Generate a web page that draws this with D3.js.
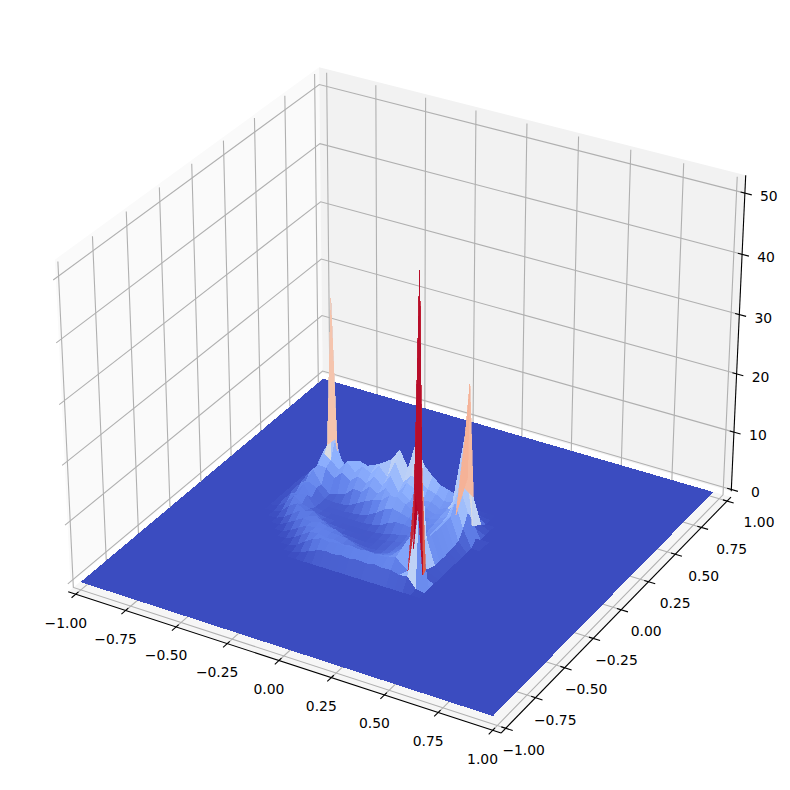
<!DOCTYPE html>
<html><head><meta charset="utf-8"><style>html,body{margin:0;padding:0;background:#fff}svg{display:block}text{font-family:"DejaVu Sans";font-size:13.9px;fill:#000}</style>
<script src="https://cdn.jsdelivr.net/npm/d3@7/dist/d3.min.js"></script></head><body><svg id="c" width="790" height="790"></svg>
<script>
const xTicks=[-1,-0.75,-0.5,-0.25,0,0.25,0.5,0.75,1];
const yTicks=[-1,-0.75,-0.5,-0.25,0,0.25,0.5,0.75,1];
const zTicks=[0,10,20,30,40,50];
const horizLabels=["−1.00","−0.75","−0.50","−0.25","0.00","0.25","0.50","0.75","1.00"];
const zLabels=["0","10","20","30","40","50"];
const gridCount=50, gridMin=-1, gridMax=0.98;
const patchI0=9, patchJ0=16;
const patch=[
[0,0,0,0,0,0,0,0,.4,1,1.6,2,1.8,2.1,1.9,2.2,2,2.3,2.1,2.2,1.8,2,.3,0,0],
[0,0,0,0,0,0,0,.5,1.5,2.4,2.9,2.7,3,2.8,3.1,2.9,3.1,3,3.2,3.6,2,16,12,0,0],
[0,0,0,0,0,0,.6,1.5,2.4,2.6,2.2,2.4,2,2.2,2,2.2,2.1,2.4,2.8,4,8,51,1,0,0],
[0,0,0,0,0,.7,1.5,2.3,2.4,2.6,2.4,2.4,2.2,1.6,1.3,1.2,1.4,1.9,2.6,3.8,4,18,1,0,0],
[0,0,0,0,.8,1.6,2.4,2.2,2.6,2.2,2.2,1.4,1,.8,.7,.8,1.2,1.7,2.4,3,3.6,5.5,1.2,0,0],
[0,0,0,.6,1.6,2.6,2,2.4,1.8,1.2,.8,.7,.6,.6,.7,.9,1.3,1.6,2.1,2.7,3.5,5.2,1.2,0,0],
[0,0,.5,1.8,2.6,1.8,2.2,1.2,.8,.7,.6,.6,.6,.6,.7,.9,1.2,1.6,2,2.6,3.6,5.2,1.2,0,0],
[0,.2,1.2,2.8,1.8,1.4,.9,.7,.6,.6,.6,.6,.6,.7,.9,1.3,1.6,1.9,2.2,2.8,3.8,5.2,1.3,0,0],
[0,.6,2,2.4,2.6,.9,.7,.7,.7,.7,.7,.7,.9,1.2,2,2.6,2.6,2.4,2.5,3,3.8,5.2,1.4,0,0],
[0,.3,1.5,3.4,1.4,.8,.7,.7,.7,.8,1,1.4,2.2,3.2,3.8,3.4,3,2.8,2.7,3.2,4,5.4,1.6,0,0],
[0,.8,2.4,3,2.4,.9,.8,.8,1,1.8,2.6,3.2,3.6,4.8,5,4.2,3.4,3,3,3.4,4.2,7,3,0,0],
[0,.5,2,4.4,2.2,1,1.4,1.8,3.2,3,4.4,3.6,5,3.4,5,4,3.4,3.6,3,3.6,5,9,5,1,0],
[0,1,3,4.5,4.4,3,4.4,3.4,4.6,3.8,5.4,4.2,6.4,4,6,5.4,3.8,4,3.2,3.8,3,10,3,0,0],
[0,.8,2.6,6,5,3.8,5.6,4.2,5.6,4.8,6.6,5,8,5,6.5,6,5,4.6,3.8,4,17,25,1,0,0],
[0,.3,1.5,6.6,8,3.6,5,5.4,5,5.6,6.4,7.4,9.5,6.7,11.7,8,6.6,5.4,5,4.6,6,5,.6,0,0],
[0,0,.6,31,5,2,2.5,2.4,2.6,3,3.5,4,3,4.5,5,4,3,2,1.5,1.2,1.5,.8,0,0,0],
[0,0,0,.5,.5,.3,.5,.5,.5,.6,.6,.8,.6,.9,1,.8,.6,.4,.3,.2,.2,.1,0,0,0]
];
// irregular grid nodes near the three peaks: [i, j, shift in x, shift in y]
const nodeShifts=[
 [30,18,.01,0],[29,18,.0237,0],[31,18,-.0125,0],[30,17,.01,0],
 [31,19,-.022,0],[31,17,-.01,0],[29,17,.02,0],
 [29,29,.022,0],[31,29,-.024,0],[30,28,.015,0],
 [11,31,.03,0],[13,31,-.015,0]
];
const cmStops=[0,.125,.25,.375,.5,.625,.75,.875,1];
const cmColors=["#3b4cc0","#6282ea","#8db0fe","#bed2f6","#dddddd","#f5c4ad","#f49a7b","#de5f4c","#b40426"];

const axisL=1.0385, paneInset=1.02, zBottom=-1.34, zTop=52.3, zPaneTop=52.9, zLine0=-0.3;
const toRad=Math.PI/180, el=30*toRad, az=-60*toRad, dist=10;
const box=[1.1905,1.1905,0.8929];
const sx=d3.scaleLinear([-axisL,axisL],[-box[0]/2,box[0]/2]);
const sy=d3.scaleLinear([-axisL,axisL],[-box[1]/2,box[1]/2]);
const sz=d3.scaleLinear([zBottom,zTop],[-box[2]/2,box[2]/2]);
const w=[Math.cos(el)*Math.cos(az),Math.cos(el)*Math.sin(az),Math.sin(el)];
const u=[-w[1],w[0],0].map(d=>d/Math.hypot(w[0],w[1]));
const v=[w[1]*u[2]-w[2]*u[1],w[2]*u[0]-w[0]*u[2],w[0]*u[1]-w[1]*u[0]];
const dot=(a,b)=>a[0]*b[0]+a[1]*b[1]+a[2]*b[2];
const px=d3.scaleLinear([-0.1,0.1],[405.7-416.5,405.7+416.5]);
const py=d3.scaleLinear([-0.1,0.1],[386+416.5,386-416.5]);
function proj(x,y,z){const p=[sx(x),sy(y),sz(z)];const d=dist-dot(w,p);return {x:px(dot(u,p)/d),y:py(dot(v,p)/d),d};}
const pt=(x,y,z)=>{const p=proj(x,y,z);return [p.x,p.y];};
const svg=d3.select("#c");
const line=d3.line();
const poly=(pts)=>line(pts)+"Z";

const paneData=[
 {c:"#fafafa",pts:[[-axisL,-paneInset,zLine0],[-axisL,axisL,zLine0],[-axisL,axisL,zPaneTop],[-axisL,-paneInset,zPaneTop]]},
 {c:"#f2f2f2",pts:[[-axisL,axisL,zLine0],[axisL,axisL,zLine0],[axisL,axisL,zPaneTop],[-axisL,axisL,zPaneTop]]},
 {c:"#f6f6f6",pts:[[-axisL,-axisL,zBottom],[axisL,-axisL,zBottom],[axisL,axisL,zBottom],[-axisL,axisL,zBottom]]}
];
svg.append("g").selectAll("path").data(paneData).join("path").attr("d",d=>poly(d.pts.map(p=>pt(...p)))).attr("fill",d=>d.c);

const gridPaths=[];
xTicks.forEach(x=>gridPaths.push([[x,-axisL,zBottom],[x,axisL,zBottom],[x,axisL,zTop]]));
yTicks.forEach(y=>gridPaths.push([[-axisL,y,zTop],[-axisL,y,zBottom],[axisL,y,zBottom]]));
zTicks.forEach(z=>gridPaths.push([[-axisL,-axisL,z],[-axisL,axisL,z],[axisL,axisL,z]]));
svg.append("g").selectAll("path").data(gridPaths).join("path").attr("d",d=>line(d.map(p=>pt(...p)))).attr("fill","none").attr("stroke","#b0b0b0").attr("stroke-width",1.1);

const axisLines=[
 [[-axisL,-axisL,zBottom],[axisL,-axisL,zBottom]],
 [[axisL,-axisL,zBottom],[axisL,axisL,zBottom]],
 [[axisL,axisL,zLine0],[axisL,axisL,zPaneTop]]
];
svg.append("g").selectAll("path").data(axisLines).join("path").attr("d",d=>line(d.map(p=>pt(...p)))).attr("fill","none").attr("stroke","#000").attr("stroke-width",1.1);

const tIn=0.02, tOut=0.032, tickSegs=[];
xTicks.forEach(x=>tickSegs.push([[x,-axisL+tIn,zBottom],[x,-axisL-tOut,zBottom]]));
yTicks.forEach(y=>tickSegs.push([[axisL-tIn,y,zBottom],[axisL+tOut,y,zBottom]]));
zTicks.forEach(z=>tickSegs.push([[axisL-tIn,axisL,z],[axisL+tOut,axisL,z]]));
svg.append("g").selectAll("path").data(tickSegs).join("path").attr("d",d=>line(d.map(p=>pt(...p)))).attr("stroke","#000").attr("stroke-width",1.1);

const gridV=d3.scaleLinear([0,gridCount-1],[gridMin,gridMax]);
const heightAt=(i,j)=>{const r=patch[j-patchJ0];if(!r)return 0;const h=r[i-patchI0];return h===undefined?0:h;};
const shiftMap=new Map(nodeShifts.map(s=>[s[0]+","+s[1],s]));
const node=(i,j)=>{const s=shiftMap.get(i+","+j)||[i,j,0,0];return proj(gridV(i)+s[2],gridV(j)+s[3],heightAt(i,j));};
const cells=[];
d3.range(gridCount-1).forEach(i=>d3.range(gridCount-1).forEach(j=>{
 const corners=[[i,j],[i+1,j],[i+1,j+1],[i,j+1]];
 const c=corners.map(([a,b])=>node(a,b));
 const h=d3.mean(corners,([a,b])=>heightAt(a,b));
 cells.push({pts:c.map(p=>[p.x,p.y]),depth:d3.mean(c,p=>p.d),h});
}));
const vmax=d3.max(cells,d=>d.h);
const tScale=d3.scaleLinear([0,vmax],[0,1]);
const cmap=d3.scaleLinear().domain(cmStops).range(cmColors);
cells.sort((a,b)=>d3.descending(a.depth,b.depth));
svg.append("g").attr("shape-rendering","crispEdges").selectAll("path").data(cells).join("path")
 .attr("d",d=>poly(d.pts)).attr("fill",d=>cmap(tScale(d.h)))
 .attr("stroke",d=>tScale(d.h)>0.4?cmap(tScale(d.h)):"none").attr("stroke-width",0.6);

const lab=svg.append("g").attr("text-anchor","middle").attr("dominant-baseline","central");
xTicks.forEach((x,k)=>{const p=pt(x,-axisL,zBottom);lab.append("text").attr("x",p[0]-10).attr("y",p[1]+28.5).text(horizLabels[k]);});
yTicks.forEach((y,k)=>{const p=pt(axisL,y,zBottom);lab.append("text").attr("x",p[0]+25+7*y).attr("y",p[1]+21.5-.5*y).text(horizLabels[k]);});
zTicks.forEach((z,k)=>{const p=pt(axisL,axisL,z);lab.append("text").attr("x",p[0]+24).attr("y",p[1]+3).text(zLabels[k]);});
</script></body></html>
